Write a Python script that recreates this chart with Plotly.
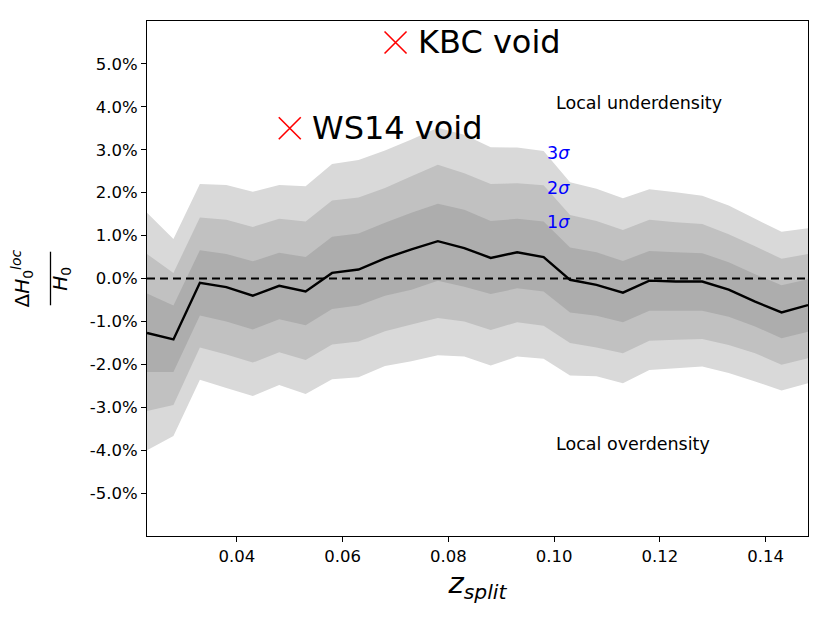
import plotly.graph_objects as go

# redshift of the split
z_split = [0.023, 0.028, 0.033, 0.038, 0.043, 0.048, 0.053, 0.058, 0.063, 0.068,
           0.073, 0.078, 0.083, 0.088, 0.093, 0.098, 0.103, 0.108, 0.113, 0.118,
           0.123, 0.128, 0.133, 0.138, 0.143, 0.148]

# median Delta H0 / H0 (percent)
dh_median = [-1.27, -1.42, -0.10, -0.20, -0.40, -0.17, -0.30, 0.13, 0.21, 0.47,
             0.68, 0.87, 0.71, 0.48, 0.61, 0.50, -0.03, -0.15, -0.33, -0.05,
             -0.07, -0.07, -0.26, -0.54, -0.79, -0.62]

# 1 sigma band
s1_upper = [-0.35, -0.63, 0.66, 0.57, 0.40, 0.60, 0.50, 0.97, 1.05, 1.30,
            1.53, 1.74, 1.60, 1.34, 1.39, 1.33, 0.72, 0.61, 0.41, 0.64,
            0.61, 0.59, 0.38, 0.10, -0.16, -0.02]
s1_lower = [-2.18, -2.18, -0.86, -1.00, -1.19, -0.95, -1.09, -0.71, -0.63, -0.40,
            -0.26, -0.05, -0.19, -0.36, -0.23, -0.30, -0.79, -0.87, -1.02, -0.75,
            -0.75, -0.75, -0.89, -1.12, -1.39, -1.24]

# 2 sigma band
s2_upper = [0.57, 0.13, 1.42, 1.37, 1.20, 1.39, 1.33, 1.82, 1.89, 2.11,
            2.38, 2.65, 2.45, 2.20, 2.22, 2.17, 1.48, 1.34, 1.13, 1.37,
            1.31, 1.27, 1.03, 0.75, 0.46, 0.57]
s2_lower = [-3.09, -2.95, -1.61, -1.77, -1.96, -1.72, -1.90, -1.54, -1.47, -1.23,
            -1.07, -0.92, -1.00, -1.20, -1.02, -1.10, -1.50, -1.61, -1.74, -1.45,
            -1.43, -1.41, -1.55, -1.74, -2.01, -1.86]

# 3 sigma band
s3_upper = [1.53, 0.92, 2.20, 2.18, 2.02, 2.18, 2.15, 2.67, 2.76, 2.98,
            3.24, 3.51, 3.35, 3.06, 3.05, 2.97, 2.24, 2.09, 1.87, 2.08,
            2.01, 1.93, 1.70, 1.39, 1.09, 1.17]
s3_lower = [-4.00, -3.67, -2.36, -2.55, -2.74, -2.48, -2.69, -2.35, -2.30, -2.04,
            -1.93, -1.79, -1.82, -2.03, -1.82, -1.87, -2.26, -2.28, -2.44, -2.13,
            -2.09, -2.05, -2.20, -2.40, -2.61, -2.44]

# local voids
void_names = ["KBC void", "WS14 void"]
void_z = [0.070, 0.050]
void_dh = [5.5, 3.5]

y_ticks = [-5, -4, -3, -2, -1, 0, 1, 2, 3, 4, 5]
y_labels = ["%.1f%%" % v for v in y_ticks]

fig = go.Figure()

bands = [(s3_upper, s3_lower, '#d9d9d9'),
         (s2_upper, s2_lower, '#c1c1c1'),
         (s1_upper, s1_lower, '#adadad')]
for up, lo, col in bands:
    fig.add_trace(go.Scatter(x=z_split + z_split[::-1], y=up + lo[::-1],
                             fill='toself', fillcolor=col, mode='none',
                             hoverinfo='skip', showlegend=False))

fig.add_trace(go.Scatter(x=z_split, y=dh_median, mode='lines',
                         line=dict(color='black', width=2.4), showlegend=False))

# zero line
fig.add_hline(y=0, line=dict(color='black', width=2, dash='8px,5px'))

fig.add_trace(go.Scatter(x=void_z, y=void_dh, mode='markers',
                         marker=dict(symbol='x-thin', size=22,
                                     line=dict(color='red', width=1.6)),
                         showlegend=False))
for name, zx, dy in zip(void_names, void_z, void_dh):
    fig.add_annotation(x=zx, y=dy, text=name, showarrow=False,
                       xanchor='left', yanchor='middle', xshift=20,
                       font=dict(size=32, color='black'))

fig.add_annotation(x=0.1, y=4.1, text="Local underdensity", showarrow=False,
                   xanchor='left', yanchor='middle', font=dict(size=17.5, color='black'))
fig.add_annotation(x=0.1, y=-3.86, text="Local overdensity", showarrow=False,
                   xanchor='left', yanchor='middle', font=dict(size=17.5, color='black'))

for lbl, yy in [("3<i>σ</i>", 2.93), ("2<i>σ</i>", 2.12), ("1<i>σ</i>", 1.31)]:
    fig.add_annotation(x=0.0982, y=yy, text=lbl, showarrow=False,
                       xanchor='left', yanchor='middle', font=dict(size=17.5, color='blue'))

# y-axis label as a rotated fraction
fig.add_annotation(xref='paper', yref='paper', x=-0.214, y=0.5,
                   text="Δ<i>H</i><sub>0</sub><sup><i>loc</i></sup>", textangle=-90,
                   showarrow=False, font=dict(size=20, color='black'))
fig.add_annotation(xref='paper', yref='paper', x=-0.154, y=0.5,
                   text="<i>H</i><sub>0</sub>", textangle=-90,
                   showarrow=False, font=dict(size=20, color='black'))
fig.add_shape(type='line', xref='paper', yref='paper', x0=-0.146, x1=-0.146,
              y0=0.448, y1=0.552, line=dict(color='black', width=1.3))

fig.update_xaxes(range=[0.023, 0.148], tickvals=[0.04, 0.06, 0.08, 0.10, 0.12, 0.14],
                 ticktext=["0.04", "0.06", "0.08", "0.10", "0.12", "0.14"],
                 ticks='outside', ticklen=5, tickcolor='black',
                 showline=True, linecolor='black', linewidth=1, mirror=True,
                 showgrid=False, zeroline=False,
                 title=dict(text="<i>z</i><sub><i>split</i></sub>", font=dict(size=29),
                            standoff=3))
fig.update_yaxes(range=[-6, 6], tickvals=y_ticks, ticktext=y_labels,
                 ticks='outside', ticklen=5, tickcolor='black',
                 showline=True, linecolor='black', linewidth=1, mirror=True,
                 showgrid=False, zeroline=False)

fig.update_layout(width=830, height=622,
                  margin=dict(l=139, r=30, t=13, b=94),
                  plot_bgcolor='white', paper_bgcolor='white',
                  font=dict(family='DejaVu Sans', size=16.5, color='black'))

fig.write_html("out.html")
